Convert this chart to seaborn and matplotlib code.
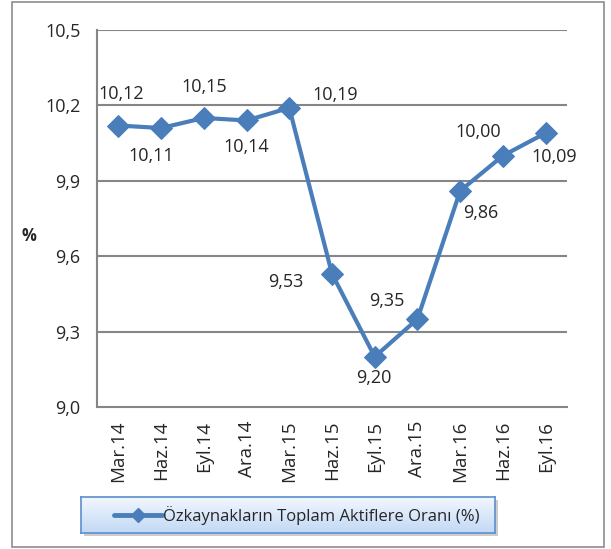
import numpy as np
import pandas as pd
import matplotlib
matplotlib.use("Agg")
import matplotlib.pyplot as plt
import seaborn as sns
from matplotlib.patches import Rectangle

periods = ["Mar.14", "Haz.14", "Eyl.14", "Ara.14", "Mar.15", "Haz.15",
           "Eyl.15", "Ara.15", "Mar.16", "Haz.16", "Eyl.16"]
ratio = [10.12, 10.11, 10.15, 10.14, 10.19, 9.53, 9.20, 9.35, 9.86, 10.00, 10.09]
series_name = "Özkaynakların Toplam Aktiflere Oranı (%)"
y_ticks = [9.0, 9.3, 9.6, 9.9, 10.2, 10.5]

# label offsets (points) relative to each marker
label_offsets = [(2, 23), (-7, -20), (0, 22), (0, -19), (33, 9), (-33, -6),
                 (-1, -15), (-22, 13), (15, -16), (-18, 17), (6, -17)]

sns.set_theme(style="white")
plt.rcParams["font.family"] = ["Open Sans", "DejaVu Sans"]

LINE = "#4a7ebb"
GRID = "#868686"

fig = plt.figure(figsize=(6.11, 5.49), dpi=100)
ax = fig.add_axes([97 / 611, 1 - 407 / 549, 470 / 611, 377 / 549])

df = pd.DataFrame({"period": periods, "ratio": ratio})
df["x"] = np.arange(len(periods))
sns.lineplot(data=df, x="x", y="ratio", ax=ax, color=LINE, linewidth=3,
             marker="D", markersize=11, markeredgecolor=LINE, legend=False)

ax.set_xlim(-0.5, len(periods) - 0.5)
ax.set_ylim(9.0, 10.5)
ax.set_yticks(y_ticks)
ax.set_yticklabels([f"{v:.1f}".replace(".", ",") for v in y_ticks], fontsize=13)
ax.set_xticks(np.arange(len(periods)))
ax.set_xticklabels(periods, rotation=90, fontsize=13.5)
ax.set_xticks(np.arange(len(periods) + 1) - 0.5, minor=True)
ax.tick_params(axis="x", which="major", length=0, pad=10)
ax.tick_params(axis="x", which="minor", length=6, width=1.5, color=GRID, direction="out")
ax.tick_params(axis="y", length=6, width=1.5, color=GRID, direction="out", pad=6)
ax.set_xlabel("")
ax.set_ylabel("%", rotation=0, fontsize=12, fontweight="bold")
ax.yaxis.set_label_coords(-0.145, 0.43)

for y in y_ticks[1:]:
    ax.axhline(y, color=GRID, linewidth=1.5, zorder=0)
for side in ["top", "right"]:
    ax.spines[side].set_visible(False)
for side in ["left", "bottom"]:
    ax.spines[side].set_color(GRID)
    ax.spines[side].set_linewidth(1.5)

for xi, v, (dx, dy) in zip(df["x"], ratio, label_offsets):
    ax.annotate(f"{v:.2f}".replace(".", ","), (xi, v), xytext=(dx, dy),
                textcoords="offset points", ha="center", va="center", fontsize=13)

# outer frame
fig.patches.append(Rectangle((12 / 611, 2 / 549), 592 / 611, 545 / 549,
                             transform=fig.transFigure, fill=False,
                             edgecolor="#8c8c8c", linewidth=1.2, zorder=-1))

# legend box with gradient fill and a soft shadow
lx0, lx1, ly0, ly1 = 81, 495, 497, 533
fig.patches.append(Rectangle(((lx0 + 3) / 611, 1 - (ly1 + 3) / 549),
                             (lx1 - lx0) / 611, (ly1 - ly0) / 549,
                             transform=fig.transFigure, facecolor="#b8b8b8",
                             edgecolor="none", alpha=0.7, zorder=-1))
lax = fig.add_axes([lx0 / 611, 1 - ly1 / 549, (lx1 - lx0) / 611, (ly1 - ly0) / 549])
grad = np.linspace(0, 1, 64).reshape(-1, 1, 1)
top = np.array([0.95, 0.97, 1.0])
bot = np.array([0.76, 0.85, 0.96])
img = top + (bot - top) * grad
lax.imshow(img, aspect="auto", extent=[0, 1, 0, 1], origin="upper")
lax.set_xlim(0, 1)
lax.set_ylim(0, 1)
lax.set_xticks([])
lax.set_yticks([])
for s in lax.spines.values():
    s.set_color("#5b8fd0")
    s.set_linewidth(1.2)
lax.plot([0.08, 0.196], [0.5, 0.5], color=LINE, linewidth=3.5, solid_capstyle="round")
lax.plot([0.138], [0.5], marker="D", markersize=7, color=LINE)
lax.text(0.198, 0.48, series_name, ha="left", va="center", fontsize=12)

fig.savefig("out.png", dpi=100)
